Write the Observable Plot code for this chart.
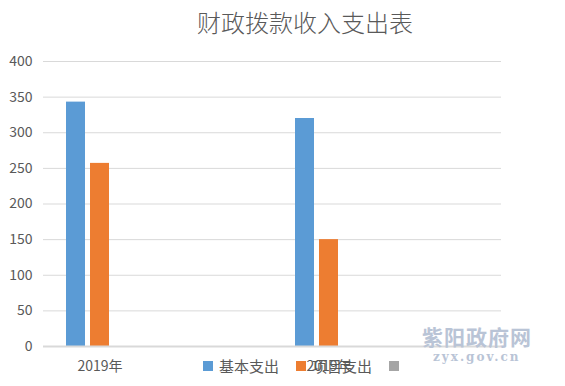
<!DOCTYPE html>
<html>
<head>
<meta charset="utf-8">
<script src="https://cdn.jsdelivr.net/npm/d3@7"></script>
<script src="https://cdn.jsdelivr.net/npm/@observablehq/plot@0.6"></script>
<style>
  html, body { margin: 0; padding: 0; background: #fff; }
  #wrap { position: relative; width: 565px; height: 386px; overflow: hidden; font-family: "Noto Sans CJK SC", "Noto Sans", sans-serif; }
  #title { position: absolute; top: 8px; left: 305px; transform: translateX(-50%); white-space: nowrap; font-size: 24px; line-height: 28px; color: #595959; font-weight: 300; }
  #legend { position: absolute; top: 356px; left: 203px; display: flex; align-items: center; font-size: 15px; line-height: 20px; color: #595959; }
  .item { display: flex; align-items: center; margin-right: 17px; }
  .sw { width: 10px; height: 10px; margin-right: 6px; }
  #wm1 { position: absolute; top: 324px; left: 422px; font-size: 21px; font-weight: bold; color: #b9c4d6; letter-spacing: 1px; line-height: 24px; }
  #wm2 { position: absolute; top: 350px; left: 433px; font-size: 12px; font-weight: bold; color: #b9c4d6; letter-spacing: 2px; line-height: 14px; font-family: "DejaVu Serif", serif; }
</style>
</head>
<body>
<div id="wrap">
  <div id="chart"></div>
  <div id="title"></div>
  <div id="legend"></div>
  <div id="wm1">紫阳政府网</div>
  <div id="wm2">zyx.gov.cn</div>
</div>
<script>
const title = "财政拨款收入支出表";
const categories = ["2019年", "2019年"];
const series = ["基本支出", "项目支出", ""];
const basicValues = [343, 320];
const projectValues = [257, 150];
const thirdValues = [0, 0];
const yTicks = [0, 50, 100, 150, 200, 250, 300, 350, 400];
const colors = ["#5b9bd5", "#ed7d31", "#a5a5a5"];

const seriesValues = [basicValues, projectValues, thirdValues];
const data = categories.flatMap((c, i) =>
  series.map((s, j) => ({idx: i, cat: c, series: s, value: seriesValues[j][i]}))
);
const labels = categories.map((c, i) => ({idx: i, text: c}));

const chart = Plot.plot({
  width: 565,
  height: 386,
  marginTop: 61,
  marginBottom: 40,
  marginLeft: 42,
  marginRight: 64,
  fx: {domain: [0, 1], padding: 0, axis: null},
  x: {domain: series, paddingInner: 0.2, paddingOuter: 0, insetLeft: 22, insetRight: 137.5, axis: null},
  y: {domain: [0, 400], ticks: yTicks, tickSize: 0, tickPadding: 11, label: null},
  color: {domain: series, range: colors},
  style: {fontFamily: '"Noto Sans CJK SC", "Noto Sans", sans-serif', fontSize: "14px", color: "#595959", background: "white", overflow: "visible"},
  marks: [
    Plot.ruleY(yTicks.filter(d => d > 0), {stroke: "#d9d9d9", strokeWidth: 1}),
    Plot.barY(data.filter(d => d.value > 0), {fx: "idx", x: "series", y: "value", fill: "series"}),
    Plot.ruleY([0], {stroke: "#d9d9d9", strokeWidth: 2}),
    Plot.text(labels, {fx: "idx", x: () => series[1], y: () => 0, text: "text", dy: 20, lineAnchor: "middle", fill: "#595959", fontSize: 14})
  ]
});
document.getElementById("chart").appendChild(chart);
document.getElementById("title").textContent = title;

const legend = document.getElementById("legend");
series.forEach((s, j) => {
  const item = document.createElement("div");
  item.className = "item";
  const sw = document.createElement("div");
  sw.className = "sw";
  sw.style.background = colors[j];
  const t = document.createElement("span");
  t.textContent = s;
  item.appendChild(sw);
  item.appendChild(t);
  legend.appendChild(item);
});
</script>
</body>
</html>
